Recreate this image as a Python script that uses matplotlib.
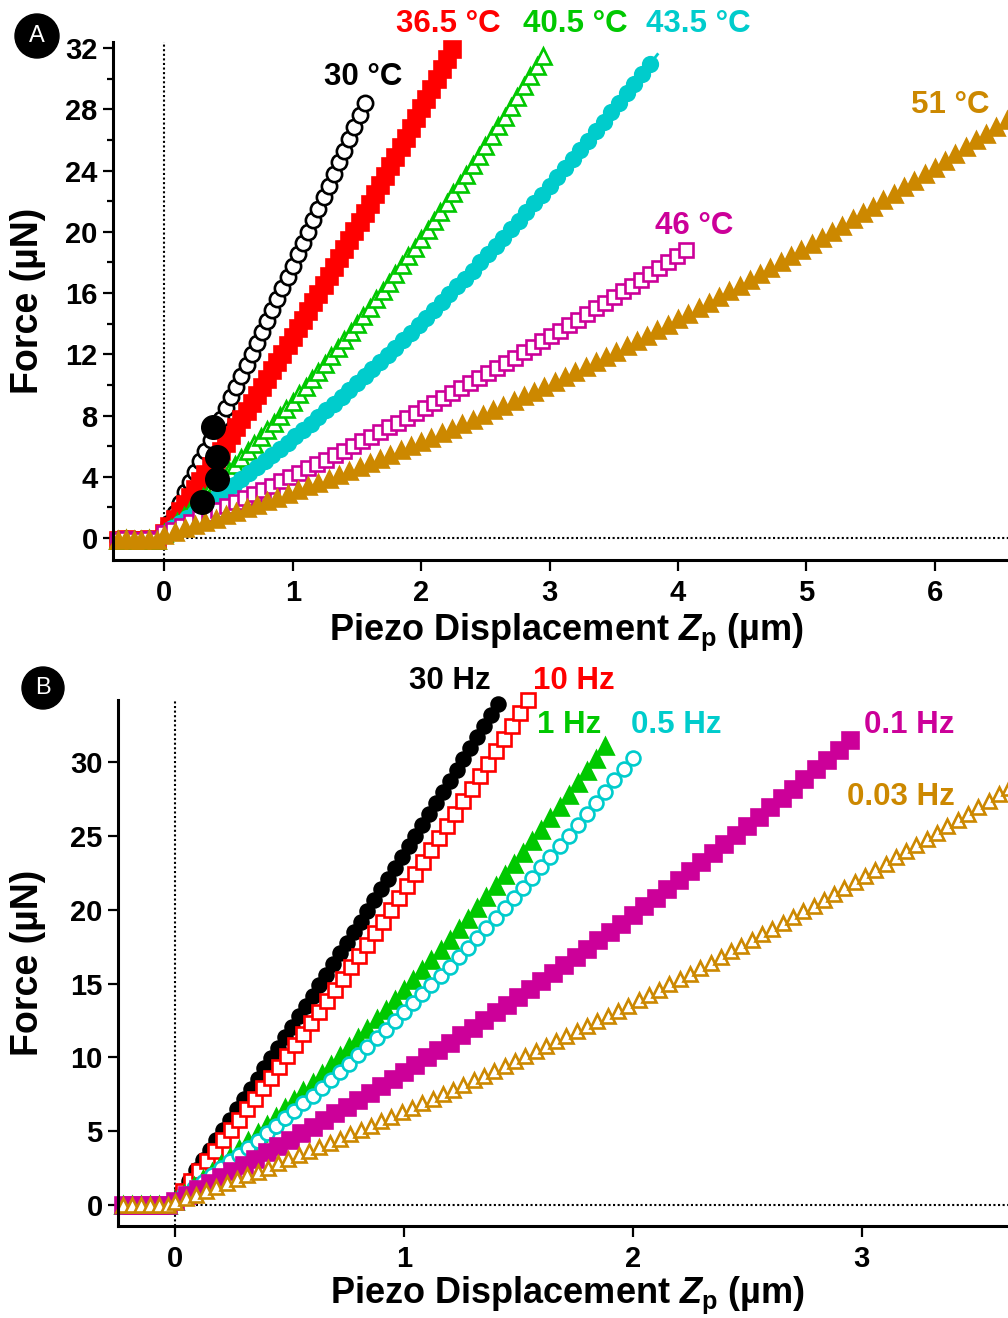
import numpy as np
import matplotlib.pyplot as plt
from matplotlib.patches import Circle

plt.rcParams['font.family'] = ['Liberation Sans', 'DejaVu Sans']
plt.rcParams['font.weight'] = 'bold'
plt.rcParams['mathtext.fontset'] = 'custom'
plt.rcParams['mathtext.rm'] = 'Liberation Sans:bold'
plt.rcParams['mathtext.it'] = 'Liberation Sans:italic:bold'
plt.rcParams['mathtext.bf'] = 'Liberation Sans:bold'

# ---------------- panel A : temperature series ----------------
zp_flat_a = [-0.36, -0.30, -0.24, -0.18, -0.12, -0.06]
f_flat_a = [-0.10, -0.08, -0.12, -0.10, -0.09, -0.11]

zp_30c = [0.00, 0.04, 0.08, 0.12, 0.16, 0.20, 0.24, 0.28, 0.32, 0.36, 0.40, 0.44, 0.48, 0.52,
          0.56, 0.60, 0.64, 0.68, 0.72, 0.76, 0.80, 0.84, 0.88, 0.92, 0.96, 1.00, 1.04, 1.08,
          1.12, 1.16, 1.20, 1.24, 1.28, 1.32, 1.36, 1.40, 1.44, 1.48, 1.52, 1.56]
f_30c = [0.30, 0.97, 1.63, 2.31, 2.98, 3.66, 4.34, 5.02, 5.70, 6.39, 7.08, 7.78, 8.48, 9.18,
         9.88, 10.58, 11.29, 12.00, 12.72, 13.44, 14.16, 14.88, 15.61, 16.33, 17.07, 17.80,
         18.54, 19.28, 20.02, 20.77, 21.52, 22.27, 23.02, 23.78, 24.54, 25.30, 26.07, 26.84,
         27.61, 28.39]

zp_365c = [0.00, 0.04, 0.08, 0.12, 0.16, 0.20, 0.24, 0.28, 0.32, 0.36, 0.40, 0.44, 0.48, 0.52,
           0.56, 0.60, 0.64, 0.68, 0.72, 0.76, 0.80, 0.84, 0.88, 0.92, 0.96, 1.00, 1.04, 1.08,
           1.12, 1.16, 1.20, 1.24, 1.28, 1.32, 1.36, 1.40, 1.44, 1.48, 1.52, 1.56, 1.60, 1.64,
           1.68, 1.72, 1.76, 1.80, 1.84, 1.88, 1.92, 1.96, 2.00, 2.04, 2.08, 2.12, 2.16, 2.20,
           2.24]
f_365c = [0.30, 0.77, 1.25, 1.73, 2.21, 2.70, 3.19, 3.69, 4.18, 4.68, 5.19, 5.69, 6.20, 6.72,
          7.23, 7.75, 8.28, 8.80, 9.34, 9.87, 10.41, 10.95, 11.49, 12.04, 12.59, 13.14, 13.70,
          14.26, 14.82, 15.39, 15.96, 16.53, 17.11, 17.69, 18.27, 18.86, 19.45, 20.04, 20.64,
          21.24, 21.84, 22.45, 23.06, 23.67, 24.29, 24.91, 25.53, 26.16, 26.79, 27.42, 28.06,
          28.70, 29.34, 29.99, 30.64, 31.29, 31.95]

zp_405c = [0.00, 0.05, 0.10, 0.15, 0.20, 0.25, 0.30, 0.35, 0.40, 0.45, 0.50, 0.55, 0.60, 0.65,
           0.70, 0.75, 0.80, 0.85, 0.90, 0.95, 1.00, 1.05, 1.10, 1.15, 1.20, 1.25, 1.30, 1.35,
           1.40, 1.45, 1.50, 1.55, 1.60, 1.65, 1.70, 1.75, 1.80, 1.85, 1.90, 1.95, 2.00, 2.05,
           2.10, 2.15, 2.20, 2.25, 2.30, 2.35, 2.40, 2.45, 2.50, 2.55, 2.60, 2.65, 2.70, 2.75,
           2.80, 2.85, 2.90, 2.95]
f_405c = [0.30, 0.68, 1.07, 1.46, 1.86, 2.26, 2.67, 3.08, 3.50, 3.92, 4.35, 4.79, 5.22, 5.67,
          6.11, 6.57, 7.03, 7.49, 7.96, 8.43, 8.91, 9.39, 9.88, 10.38, 10.87, 11.38, 11.89,
          12.40, 12.92, 13.44, 13.97, 14.51, 15.05, 15.59, 16.14, 16.69, 17.25, 17.82, 18.39,
          18.96, 19.54, 20.12, 20.71, 21.31, 21.91, 22.51, 23.12, 23.74, 24.36, 24.98, 25.61,
          26.25, 26.89, 27.53, 28.18, 28.84, 29.50, 30.16, 30.83, 31.51]

zp_435c = [0.00, 0.06, 0.12, 0.18, 0.24, 0.30, 0.36, 0.42, 0.48, 0.54, 0.60, 0.66, 0.72, 0.78,
           0.84, 0.90, 0.96, 1.02, 1.08, 1.14, 1.20, 1.26, 1.32, 1.38, 1.44, 1.50, 1.56, 1.62,
           1.68, 1.74, 1.80, 1.86, 1.92, 1.98, 2.04, 2.10, 2.16, 2.22, 2.28, 2.34, 2.40, 2.46,
           2.52, 2.58, 2.64, 2.70, 2.76, 2.82, 2.88, 2.94, 3.00, 3.06, 3.12, 3.18, 3.24, 3.30,
           3.36, 3.42, 3.48, 3.54, 3.60, 3.66, 3.72, 3.78, 3.84]
f_435c = [0.30, 0.63, 0.97, 1.31, 1.66, 2.01, 2.37, 2.73, 3.10, 3.47, 3.85, 4.23, 4.62, 5.01,
          5.41, 5.81, 6.22, 6.63, 7.04, 7.47, 7.89, 8.33, 8.76, 9.20, 9.65, 10.10, 10.56,
          11.02, 11.49, 11.96, 12.44, 12.92, 13.40, 13.90, 14.39, 14.89, 15.40, 15.91, 16.43,
          16.95, 17.47, 18.01, 18.54, 19.08, 19.63, 20.18, 20.74, 21.30, 21.86, 22.43, 23.01,
          23.59, 24.18, 24.77, 25.36, 25.96, 26.57, 27.18, 27.80, 28.42, 29.04, 29.67, 30.31,
          30.95, 31.59]

zp_46c = [0.00, 0.07, 0.14, 0.21, 0.28, 0.35, 0.42, 0.49, 0.56, 0.63, 0.70, 0.77, 0.84, 0.91,
          0.98, 1.05, 1.12, 1.19, 1.26, 1.33, 1.40, 1.47, 1.54, 1.61, 1.68, 1.75, 1.82, 1.89,
          1.96, 2.03, 2.10, 2.17, 2.24, 2.31, 2.38, 2.45, 2.52, 2.59, 2.66, 2.73, 2.80, 2.87,
          2.94, 3.01, 3.08, 3.15, 3.22, 3.29, 3.36, 3.43, 3.50, 3.57, 3.64, 3.71, 3.78, 3.85,
          3.92, 3.99, 4.06]
f_46c = [0.30, 0.55, 0.80, 1.05, 1.30, 1.56, 1.82, 2.08, 2.34, 2.61, 2.88, 3.15, 3.42, 3.70,
         3.98, 4.26, 4.55, 4.83, 5.12, 5.41, 5.71, 6.01, 6.31, 6.61, 6.91, 7.22, 7.53, 7.84,
         8.16, 8.48, 8.80, 9.12, 9.44, 9.77, 10.10, 10.44, 10.77, 11.11, 11.45, 11.79, 12.14,
         12.49, 12.84, 13.19, 13.55, 13.90, 14.27, 14.63, 15.00, 15.36, 15.74, 16.11, 16.48,
         16.86, 17.25, 17.63, 18.02, 18.40, 18.80]

zp_51c = [0.00, 0.08, 0.16, 0.24, 0.32, 0.40, 0.48, 0.56, 0.64, 0.72, 0.80, 0.88, 0.96, 1.04,
          1.12, 1.20, 1.28, 1.36, 1.44, 1.52, 1.60, 1.68, 1.76, 1.84, 1.92, 2.00, 2.08, 2.16,
          2.24, 2.32, 2.40, 2.48, 2.56, 2.64, 2.72, 2.80, 2.88, 2.96, 3.04, 3.12, 3.20, 3.28,
          3.36, 3.44, 3.52, 3.60, 3.68, 3.76, 3.84, 3.92, 4.00, 4.08, 4.16, 4.24, 4.32, 4.40,
          4.48, 4.56, 4.64, 4.72, 4.80, 4.88, 4.96, 5.04, 5.12, 5.20, 5.28, 5.36, 5.44, 5.52,
          5.60, 5.68, 5.76, 5.84, 5.92, 6.00, 6.08, 6.16, 6.24, 6.32, 6.40, 6.48, 6.56]
f_51c = [0.20, 0.41, 0.62, 0.83, 1.04, 1.26, 1.48, 1.71, 1.94, 2.17, 2.40, 2.64, 2.88, 3.12,
         3.37, 3.62, 3.87, 4.13, 4.38, 4.65, 4.91, 5.18, 5.45, 5.72, 6.00, 6.28, 6.56, 6.85,
         7.14, 7.43, 7.73, 8.02, 8.33, 8.63, 8.94, 9.25, 9.56, 9.88, 10.20, 10.52, 10.85,
         11.18, 11.51, 11.85, 12.18, 12.53, 12.87, 13.22, 13.57, 13.92, 14.28, 14.64, 15.00,
         15.37, 15.74, 16.11, 16.49, 16.86, 17.25, 17.63, 18.02, 18.41, 18.80, 19.20, 19.60,
         20.00, 20.41, 20.82, 21.23, 21.64, 22.06, 22.48, 22.91, 23.34, 23.77, 24.20, 24.64,
         25.08, 25.52, 25.97, 26.41, 26.87, 27.32]

# large black points near the start of the curves
zp_mark = [0.38, 0.41, 0.41, 0.29]
f_mark = [7.25, 5.30, 3.85, 2.35]

# ---------------- panel B : frequency series ----------------
zp_flat_b = [-0.23, -0.19, -0.15, -0.11, -0.07, -0.03]
f_flat_b = [0.00, 0.02, -0.02, 0.00, 0.01, -0.01]

zp_30hz = [0.00, 0.03, 0.06, 0.09, 0.12, 0.15, 0.18, 0.21, 0.24, 0.27, 0.30, 0.33, 0.36, 0.39,
           0.42, 0.45, 0.48, 0.51, 0.54, 0.57, 0.60, 0.63, 0.66, 0.69, 0.72, 0.75, 0.78, 0.81,
           0.84, 0.87, 0.90, 0.93, 0.96, 0.99, 1.02, 1.05, 1.08, 1.11, 1.14, 1.17, 1.20, 1.23,
           1.26, 1.29, 1.32, 1.35, 1.38, 1.41]
f_30hz = [0.30, 0.98, 1.66, 2.34, 3.03, 3.71, 4.40, 5.09, 5.78, 6.47, 7.16, 7.86, 8.55, 9.25,
          9.95, 10.65, 11.36, 12.06, 12.77, 13.47, 14.18, 14.90, 15.61, 16.32, 17.04, 17.76,
          18.48, 19.20, 19.92, 20.64, 21.37, 22.10, 22.83, 23.56, 24.29, 25.02, 25.76, 26.49,
          27.23, 27.97, 28.72, 29.46, 30.20, 30.95, 31.70, 32.45, 33.20, 33.96]

zp_10hz = [0.000, 0.035, 0.070, 0.105, 0.140, 0.175, 0.210, 0.245, 0.280, 0.315, 0.350, 0.385,
           0.420, 0.455, 0.490, 0.525, 0.560, 0.595, 0.630, 0.665, 0.700, 0.735, 0.770, 0.805,
           0.840, 0.875, 0.910, 0.945, 0.980, 1.015, 1.050, 1.085, 1.120, 1.155, 1.190, 1.225,
           1.260, 1.295, 1.330, 1.365, 1.400, 1.435, 1.470, 1.505, 1.540]
f_10hz = [0.30, 0.97, 1.64, 2.32, 3.00, 3.68, 4.38, 5.07, 5.77, 6.48, 7.19, 7.90, 8.62, 9.35,
          10.08, 10.81, 11.55, 12.30, 13.04, 13.80, 14.56, 15.32, 16.09, 16.86, 17.64, 18.42,
          19.20, 20.00, 20.79, 21.59, 22.40, 23.21, 24.03, 24.85, 25.67, 26.50, 27.34, 28.18,
          29.02, 29.87, 30.72, 31.58, 32.44, 33.31, 34.18]

zp_1hz = [0.00, 0.04, 0.08, 0.12, 0.16, 0.20, 0.24, 0.28, 0.32, 0.36, 0.40, 0.44, 0.48, 0.52,
          0.56, 0.60, 0.64, 0.68, 0.72, 0.76, 0.80, 0.84, 0.88, 0.92, 0.96, 1.00, 1.04, 1.08,
          1.12, 1.16, 1.20, 1.24, 1.28, 1.32, 1.36, 1.40, 1.44, 1.48, 1.52, 1.56, 1.60, 1.64,
          1.68, 1.72, 1.76, 1.80, 1.84, 1.88]
f_1hz = [0.30, 0.78, 1.26, 1.76, 2.26, 2.77, 3.28, 3.81, 4.34, 4.88, 5.42, 5.98, 6.54, 7.11,
         7.69, 8.27, 8.87, 9.47, 10.08, 10.69, 11.32, 11.95, 12.59, 13.23, 13.89, 14.55, 15.22,
         15.90, 16.58, 17.28, 17.98, 18.68, 19.40, 20.12, 20.86, 21.59, 22.34, 23.10, 23.86,
         24.63, 25.40, 26.19, 26.98, 27.78, 28.59, 29.41, 30.23, 31.06]

zp_05hz = [0.00, 0.04, 0.08, 0.12, 0.16, 0.20, 0.24, 0.28, 0.32, 0.36, 0.40, 0.44, 0.48, 0.52,
           0.56, 0.60, 0.64, 0.68, 0.72, 0.76, 0.80, 0.84, 0.88, 0.92, 0.96, 1.00, 1.04, 1.08,
           1.12, 1.16, 1.20, 1.24, 1.28, 1.32, 1.36, 1.40, 1.44, 1.48, 1.52, 1.56, 1.60, 1.64,
           1.68, 1.72, 1.76, 1.80, 1.84, 1.88, 1.92, 1.96, 2.00]
f_05hz = [0.30, 0.72, 1.15, 1.59, 2.04, 2.49, 2.95, 3.42, 3.89, 4.37, 4.86, 5.36, 5.86, 6.37,
          6.89, 7.41, 7.94, 8.48, 9.03, 9.58, 10.14, 10.71, 11.28, 11.86, 12.45, 13.05, 13.65,
          14.26, 14.88, 15.51, 16.14, 16.78, 17.43, 18.08, 18.74, 19.41, 20.09, 20.77, 21.46,
          22.16, 22.86, 23.57, 24.29, 25.02, 25.75, 26.49, 27.24, 27.99, 28.75, 29.52, 30.30]

zp_01hz = [0.00, 0.05, 0.10, 0.15, 0.20, 0.25, 0.30, 0.35, 0.40, 0.45, 0.50, 0.55, 0.60, 0.65,
           0.70, 0.75, 0.80, 0.85, 0.90, 0.95, 1.00, 1.05, 1.10, 1.15, 1.20, 1.25, 1.30, 1.35,
           1.40, 1.45, 1.50, 1.55, 1.60, 1.65, 1.70, 1.75, 1.80, 1.85, 1.90, 1.95, 2.00, 2.05,
           2.10, 2.15, 2.20, 2.25, 2.30, 2.35, 2.40, 2.45, 2.50, 2.55, 2.60, 2.65, 2.70, 2.75,
           2.80, 2.85, 2.90, 2.95]
f_01hz = [0.30, 0.69, 1.09, 1.49, 1.89, 2.30, 2.72, 3.14, 3.56, 3.99, 4.42, 4.86, 5.30, 5.75,
          6.20, 6.66, 7.12, 7.59, 8.06, 8.54, 9.02, 9.51, 10.00, 10.49, 10.99, 11.50, 12.01,
          12.52, 13.04, 13.56, 14.09, 14.63, 15.16, 15.71, 16.25, 16.81, 17.36, 17.93, 18.49,
          19.06, 19.64, 20.22, 20.81, 21.40, 21.99, 22.59, 23.20, 23.81, 24.42, 25.04, 25.66,
          26.29, 26.92, 27.56, 28.20, 28.85, 29.50, 30.16, 30.82, 31.49]

zp_003hz = [0.000, 0.045, 0.090, 0.135, 0.180, 0.225, 0.270, 0.315, 0.360, 0.405, 0.450, 0.495,
            0.540, 0.585, 0.630, 0.675, 0.720, 0.765, 0.810, 0.855, 0.900, 0.945, 0.990, 1.035,
            1.080, 1.125, 1.170, 1.215, 1.260, 1.305, 1.350, 1.395, 1.440, 1.485, 1.530, 1.575,
            1.620, 1.665, 1.710, 1.755, 1.800, 1.845, 1.890, 1.935, 1.980, 2.025, 2.070, 2.115,
            2.160, 2.205, 2.250, 2.295, 2.340, 2.385, 2.430, 2.475, 2.520, 2.565, 2.610, 2.655,
            2.700, 2.745, 2.790, 2.835, 2.880, 2.925, 2.970, 3.015, 3.060, 3.105, 3.150, 3.195,
            3.240, 3.285, 3.330, 3.375, 3.420, 3.465, 3.510, 3.555, 3.600, 3.645]
f_003hz = [0.20, 0.45, 0.70, 0.96, 1.22, 1.48, 1.74, 2.01, 2.27, 2.54, 2.82, 3.09, 3.37, 3.65,
           3.93, 4.22, 4.50, 4.79, 5.08, 5.38, 5.67, 5.97, 6.27, 6.58, 6.88, 7.19, 7.50, 7.81,
           8.13, 8.45, 8.77, 9.09, 9.42, 9.74, 10.07, 10.40, 10.74, 11.08, 11.42, 11.76, 12.10,
           12.45, 12.80, 13.15, 13.50, 13.86, 14.22, 14.58, 14.94, 15.31, 15.67, 16.04, 16.42,
           16.79, 17.17, 17.55, 17.93, 18.32, 18.70, 19.09, 19.49, 19.88, 20.28, 20.68, 21.08,
           21.48, 21.89, 22.30, 22.71, 23.12, 23.54, 23.96, 24.38, 24.80, 25.22, 25.65, 26.08,
           26.51, 26.95, 27.39, 27.83, 28.27]

BLACK = 'black'
RED = '#ff0000'
GREEN = '#00c800'
CYAN = '#00cccc'
MAGENTA = '#cc0099'
ORANGE = '#cc8800'


def curve(ax, flat_x, flat_y, x, y, marker, color, ms, filled, mew=1.9, line=False, skip_last=False):
    xs = flat_x + x
    ys = flat_y + y
    every = slice(0, len(xs) - 1) if skip_last else None
    ax.plot(xs, ys, ls='-' if line else 'none', lw=2.0, color=color,
            marker=marker, ms=ms, mec=color, mew=mew,
            mfc=color if filled else 'white', markevery=every, clip_on=False)


def style(ax, xlim, ylim, xticks, yticks, yminor=None):
    ax.set_xlim(*xlim)
    ax.set_ylim(*ylim)
    for side in ['top', 'right']:
        ax.spines[side].set_visible(False)
    for side in ['left', 'bottom']:
        ax.spines[side].set_linewidth(2.2)
    ax.set_xticks(xticks)
    ax.set_yticks(yticks)
    if yminor is not None:
        ax.set_yticks(yminor, minor=True)
    ax.tick_params(axis='both', which='major', direction='out', width=1.6, labelsize=21)
    ax.tick_params(axis='x', which='major', length=8, pad=6)
    ax.tick_params(axis='y', which='major', length=7, pad=4)
    ax.tick_params(axis='y', which='minor', direction='out', length=4, width=1.6)
    ax.axvline(0, color='black', lw=1.5, ls=(0, (1, 1.2)), zorder=1)
    ax.axhline(0, color='black', lw=1.5, ls=(0, (1, 1.2)), zorder=1)


fig = plt.figure(figsize=(10.08, 13.18), dpi=100)
ax_a = fig.add_axes([0.1121, 0.5751, 0.8879, 0.3930])
ax_b = fig.add_axes([0.1171, 0.0698, 0.8829, 0.3991])

# panel A
style(ax_a, (-0.40, 6.57), (-1.44, 32.4), range(0, 7), range(0, 33, 4), range(2, 33, 4))
curve(ax_a, zp_flat_a, f_flat_a, zp_30c, f_30c, 'o', BLACK, 11, False)
curve(ax_a, zp_flat_a, f_flat_a, zp_365c, f_365c, 's', RED, 11, True)
curve(ax_a, zp_flat_a, f_flat_a, zp_405c, f_405c, '^', GREEN, 11.5, False)
curve(ax_a, zp_flat_a, f_flat_a, zp_435c, f_435c, 'o', CYAN, 10.5, True, line=True, skip_last=True)
curve(ax_a, zp_flat_a, f_flat_a, zp_46c, f_46c, 's', MAGENTA, 10, False)
curve(ax_a, zp_flat_a, f_flat_a, zp_51c, f_51c, '^', ORANGE, 11.5, True)
ax_a.plot(zp_mark, f_mark, ls='none', marker='o', ms=17, color='black', zorder=5)

labels_a = [(1.55, 30.1, '30 °C', BLACK), (2.21, 33.6, '36.5 °C', RED),
            (3.20, 33.6, '40.5 °C', GREEN), (4.16, 33.6, '43.5 °C', CYAN),
            (4.13, 20.4, '46 °C', MAGENTA), (6.12, 28.3, '51 °C', ORANGE)]
for x, y, s, c in labels_a:
    ax_a.text(x, y, s, color=c, fontsize=22.5, fontweight='bold', ha='center', va='center')

# panel B
style(ax_b, (-0.25, 3.64), (-1.42, 34.2), range(0, 4), range(0, 31, 5))
curve(ax_b, zp_flat_b, f_flat_b, zp_30hz, f_30hz, 'o', BLACK, 10, True)
curve(ax_b, zp_flat_b, f_flat_b, zp_10hz, f_10hz, 's', RED, 10, False)
curve(ax_b, zp_flat_b, f_flat_b, zp_1hz, f_1hz, '^', GREEN, 11, True)
curve(ax_b, zp_flat_b, f_flat_b, zp_05hz, f_05hz, 'o', CYAN, 10, False)
curve(ax_b, zp_flat_b, f_flat_b, zp_01hz, f_01hz, 's', MAGENTA, 12, True)
curve(ax_b, zp_flat_b, f_flat_b, zp_003hz, f_003hz, '^', ORANGE, 10, False)

labels_b = [(1.20, 35.5, '30 Hz', BLACK), (1.74, 35.5, '10 Hz', RED),
            (1.72, 32.5, '1 Hz', GREEN), (2.19, 32.5, '0.5 Hz', CYAN),
            (3.21, 32.5, '0.1 Hz', MAGENTA), (3.17, 27.6, '0.03 Hz', ORANGE)]
for x, y, s, c in labels_b:
    ax_b.text(x, y, s, color=c, fontsize=22.5, fontweight='bold', ha='center', va='center')

# axis titles
xlab = r'Piezo Displacement $Z_{\mathrm{p}}$ (µm)'
fig.text(0.5625, 0.5205, xlab, fontsize=26, fontweight='bold', ha='center', va='center')
fig.text(0.5635, 0.0170, xlab, fontsize=26, fontweight='bold', ha='center', va='center')
fig.text(0.0278, 0.7716, 'Force (µN)', fontsize=27, fontweight='bold', rotation=90,
         ha='center', va='center')
fig.text(0.0278, 0.2694, 'Force (µN)', fontsize=27, fontweight='bold', rotation=90,
         ha='center', va='center')

# panel letters in black discs
for cx, cy, r, letter in [(0.37, 12.82, 0.22, 'A'), (0.43, 6.30, 0.21, 'B')]:
    fig.add_artist(Circle((cx, cy), r, transform=fig.dpi_scale_trans, color='black'))
    fig.text(cx / 10.08, cy / 13.18, letter, color='white', fontsize=17, fontweight='normal',
             ha='center', va='center')

fig.savefig('out.png', dpi=100)
